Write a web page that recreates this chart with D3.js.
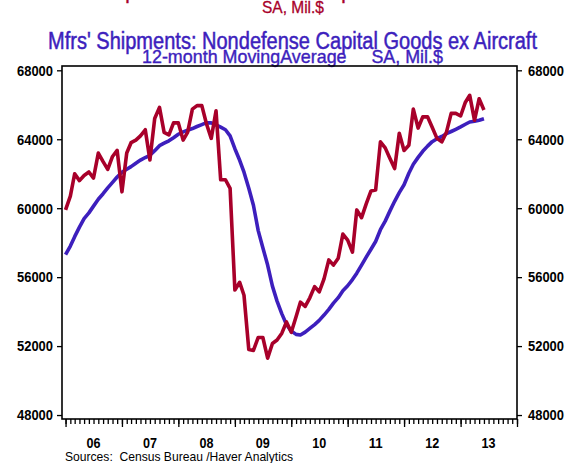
<!DOCTYPE html>
<html>
<head>
<meta charset="utf-8">
<script src="https://cdn.jsdelivr.net/npm/d3@7"></script>
<style>
body { margin: 0; background: #fff; }
text { font-family: "Liberation Sans", Arial, sans-serif; }
.axis path { display: none; }
.axis line { stroke: #000; stroke-width: 1.3; }
</style>
</head>
<body>
<script>
// monthly data, Jan 2006 onwards
var firstMonth = new Date(2006, 0, 1)
var shipments = [
    59900, 60700, 62000, 61600, 61900, 62100, 61750, 63200, 62700, 62250, 63000, 63350,
    60950, 63200, 63800, 63950, 64200, 64550, 62800, 65200, 65850, 64400, 64250, 64950,
    64950, 63950, 64400, 65750, 65950, 65950, 64900, 64050, 65650, 61650, 61650, 61150,
    55250, 55700, 54950, 51800, 51750, 52500, 52500, 51300, 52150, 52350, 52750, 53400,
    52800, 53700, 54550, 54300, 54800, 55450, 55150, 55900, 57000, 56700, 57100, 58500,
    58150, 57450, 59900, 59450, 60250, 61000, 61050, 63850, 63500, 62900, 62300, 64350,
    63350, 63650, 65750, 64650, 65300, 65300, 64700, 64050, 63850, 64400, 65500, 65500,
    65350, 66150, 66550, 65100, 66350, 65700
]
var movingAvg = [
    57300, 57800, 58350, 58900, 59400, 59730, 60120, 60520, 60840, 61180, 61500, 61810,
    62090, 62260, 62410, 62610, 62790, 62940, 63070, 63340, 63630, 63770, 63910, 64090,
    64290, 64430, 64520, 64620, 64740, 64850, 64960, 64950, 64830, 64700, 64550, 64200,
    63450, 62780, 62090, 61160, 60170, 58700, 57710, 56700, 55480, 54610, 53870, 53250,
    52870, 52680, 52640, 52810, 53030, 53250, 53490, 53800, 54130, 54490, 54810, 55210,
    55500, 55860, 56230, 56700, 57160, 57620, 58070, 58750, 59250, 59830, 60400, 60900,
    61360, 62030, 62550, 62950, 63300, 63600, 63860, 64030, 64160, 64320, 64450, 64580,
    64720, 64870, 65000, 65040, 65100, 65190
]
var yTicks = [48000, 52000, 56000, 60000, 64000, 68000]
var years = [2006, 2007, 2008, 2009, 2010, 2011, 2012, 2013]
var yearLabels = ['06', '07', '08', '09', '10', '11', '12', '13']

var red = '#a8002a'
var blue = '#3d1fbd'

var margin = {left: 62, right: 58, top: 66, bottom: 44}
var width = 575 - margin.left - margin.right
var height = 463 - margin.top - margin.bottom

var x = d3.scaleTime()
    .domain([new Date(2005, 11, 9), new Date(2014, 0, 1)])
    .range([0, width])
var y = d3.scaleLinear()
    .domain([47770, 68250])
    .range([height, 0])

var svg = d3.select('body').append('svg')
    .attr('width', 575)
    .attr('height', 463)

// titles (red one is mostly cut off at the top)
svg.append('text')
    .attr('x', 292.5).attr('y', -2)
    .attr('text-anchor', 'middle')
    .attr('font-size', 23)
    .attr('textLength', 489).attr('lengthAdjust', 'spacingAndGlyphs')
    .attr('fill', red).attr('stroke', red).attr('stroke-width', 0.5)
    .text("Mfrs' Shipments: Nondefense Capital Goods ex Aircraft")
svg.append('text')
    .attr('x', 293).attr('y', 13)
    .attr('text-anchor', 'middle')
    .attr('font-size', 17)
    .attr('textLength', 62).attr('lengthAdjust', 'spacingAndGlyphs')
    .attr('fill', red).attr('stroke', red).attr('stroke-width', 0.3)
    .text('SA, Mil.$')
svg.append('text')
    .attr('x', 292.5).attr('y', 49)
    .attr('text-anchor', 'middle')
    .attr('font-size', 23)
    .attr('textLength', 489).attr('lengthAdjust', 'spacingAndGlyphs')
    .attr('fill', blue).attr('stroke', blue).attr('stroke-width', 0.5)
    .text("Mfrs' Shipments: Nondefense Capital Goods ex Aircraft")
svg.append('text')
    .attr('x', 292.5).attr('y', 63)
    .attr('text-anchor', 'middle')
    .attr('font-size', 19)
    .attr('textLength', 301).attr('lengthAdjust', 'spacingAndGlyphs')
    .attr('fill', blue).attr('stroke', blue).attr('stroke-width', 0.4)
    .style('white-space', 'pre')
    .text('12-month MovingAverage     SA, Mil.$')

var chart = svg.append('g')
    .attr('transform', 'translate(' + margin.left + ', ' + margin.top + ')')

// axes
var yLeft = chart.append('g')
    .attr('class', 'axis')
    .call(d3.axisLeft(y).tickValues(yTicks).tickSize(5).tickPadding(4).tickFormat(d3.format('d')))
var yRight = chart.append('g')
    .attr('class', 'axis')
    .attr('transform', 'translate(' + width + ', 0)')
    .call(d3.axisRight(y).tickValues(yTicks).tickSize(5).tickPadding(6).tickFormat(d3.format('d')))
chart.selectAll('.axis text')
    .attr('font-size', 15)
    .attr('font-weight', 'bold')
    .attr('fill', '#000')
    .attr('textLength', 36).attr('lengthAdjust', 'spacingAndGlyphs')
    .style('font-family', '"Liberation Sans", Arial, sans-serif')

var monthTicks = d3.timeMonth.range(new Date(2006, 0, 1), new Date(2014, 0, 2))
chart.append('g')
    .attr('class', 'axis')
    .attr('transform', 'translate(0, ' + height + ')')
    .call(d3.axisBottom(x).tickValues(monthTicks).tickSize(5).tickFormat(''))
chart.append('g')
    .attr('class', 'axis')
    .attr('transform', 'translate(0, ' + height + ')')
    .call(d3.axisBottom(x).tickValues(d3.timeYear.range(new Date(2006, 0, 1), new Date(2014, 0, 2))).tickSize(8).tickFormat(''))

chart.selectAll('.yearLabel')
    .data(years)
    .enter().append('text')
    .attr('class', 'yearLabel')
    .attr('x', function(d){ return x(new Date(d, 6, 1)) })
    .attr('y', height + 29)
    .attr('text-anchor', 'middle')
    .attr('font-size', 15)
    .attr('font-weight', 'bold')
    .attr('textLength', 14).attr('lengthAdjust', 'spacingAndGlyphs')
    .text(function(d, i){ return yearLabels[i] })

// frame
chart.append('rect')
    .attr('x', 0).attr('y', 0)
    .attr('width', width).attr('height', height)
    .attr('fill', 'none')
    .attr('stroke', '#000')
    .attr('stroke-width', 1.6)

// lines
var line = d3.line()
    .x(function(d, i){ return x(d3.timeMonth.offset(firstMonth, i)) })
    .y(function(d){ return y(d) })

chart.append('path')
    .datum(movingAvg)
    .attr('d', line)
    .attr('fill', 'none')
    .attr('stroke', blue)
    .attr('stroke-width', 3.6)
    .attr('stroke-linejoin', 'round')
chart.append('path')
    .datum(shipments)
    .attr('d', line)
    .attr('fill', 'none')
    .attr('stroke', red)
    .attr('stroke-width', 3.6)
    .attr('stroke-linejoin', 'round')

svg.append('text')
    .attr('x', 65).attr('y', 461)
    .attr('font-size', 13)
    .attr('textLength', 228).attr('lengthAdjust', 'spacingAndGlyphs')
    .style('white-space', 'pre')
    .text('Sources:  Census Bureau /Haver Analytics')
</script>
</body>
</html>
